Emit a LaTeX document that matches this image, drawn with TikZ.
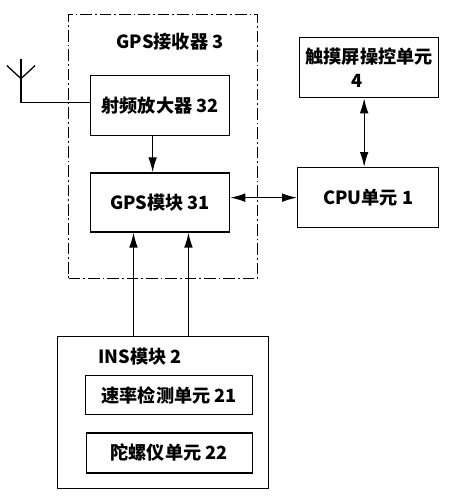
\documentclass[tikz,border=0pt]{standalone}
\usepackage{fontspec}
\setmainfont{Noto Sans CJK SC}
\usetikzlibrary{positioning,arrows.meta}
\tikzset{
    Block/.style={draw, line width=1.1pt, rectangle, anchor=north west, minimum width=4.17cm, minimum height=1.8cm},
    BlockInner/.style={draw, line width=1.1pt, rectangle, minimum width=5cm, minimum height=1.18cm},
    Receiver/.style={draw, line width=1.1pt, rectangle, anchor=north west, dash pattern=on 10pt off 2.5pt on 1.5pt off 2.5pt},
    Title/.style={inner sep=0pt},
    Arrow/.style={line width=1.1pt, -{Latex[length=4.5mm,width=2.6mm]}},
    DArrow/.style={line width=1.1pt, {Latex[length=4.5mm,width=2.6mm]}-{Latex[length=4.5mm,width=2.6mm]}}
    }
\begin{document}
\begin{tikzpicture}[font={\fontsize{15.5}{20}\selectfont\bfseries}]

\useasboundingbox (0,0) rectangle (13.47,-15);

\node[Receiver, minimum width=5.67cm, minimum height=7.92cm] (GPSR) at (2.04,-0.42) {};
\node[Title] (GPSRnom) at (5.10,-1.26) {GPS接收器 3};
\node[Block] (RF) at (2.70,-2.25) {射频放大器 32};
\node[Block, anchor=north, minimum height=1.77cm, below=1.08cm of RF] (GPS) {GPS模块 31};

\node[Block, align=center] (Touch) at (8.97,-1.11) {触摸屏操控单元\\4\hspace*{1.3em}};
\node[Block, minimum width=4.23cm] (CPU) at (8.91,-5.01) {CPU单元 1};

\node[Block, minimum width=6.33cm, minimum height=4.56cm] (INS) at (1.71,-10.08) {};
\node[Title] (INSnom) at (4.20,-10.71) {INS模块 2};
\node[BlockInner, minimum width=5.01cm, minimum height=1.17cm, anchor=north west] (Speed) at (2.55,-11.25) {速率检测单元 21};
\node[BlockInner, minimum width=4.98cm, minimum height=1.2cm, below=0.51cm of Speed] (Gyro) {陀螺仪单元 22};

% antenna
\coordinate (Ant) at ([xshift=-2.07cm,yshift=0.09cm]RF.west);
\draw[line width=1.1pt] ([yshift=0.09cm]RF.west) -- (Ant) -- ++(0,1.32);
\draw[line width=1.1pt] ([shift={(-0.42,1.11)}]Ant) -- ([yshift=0.72cm]Ant) -- ([shift={(0.42,1.11)}]Ant);

\draw[Arrow] ([xshift=-2.25mm]RF.south) -- ([xshift=-2.25mm]GPS.north);
\draw[DArrow] (GPS.east |- CPU.west) -- (CPU.west);
\draw[DArrow] ([xshift=-1.5mm]Touch.south) -- ([xshift=-1.5mm]Touch.south |- CPU.north);

\draw[Arrow] ([xshift=-0.8cm]GPS.south |- INS.north) -- ([xshift=-0.8cm]GPS.south);
\draw[Arrow] ([xshift=0.85cm]GPS.south |- INS.north) -- ([xshift=0.85cm]GPS.south);

\end{tikzpicture}
\end{document}
